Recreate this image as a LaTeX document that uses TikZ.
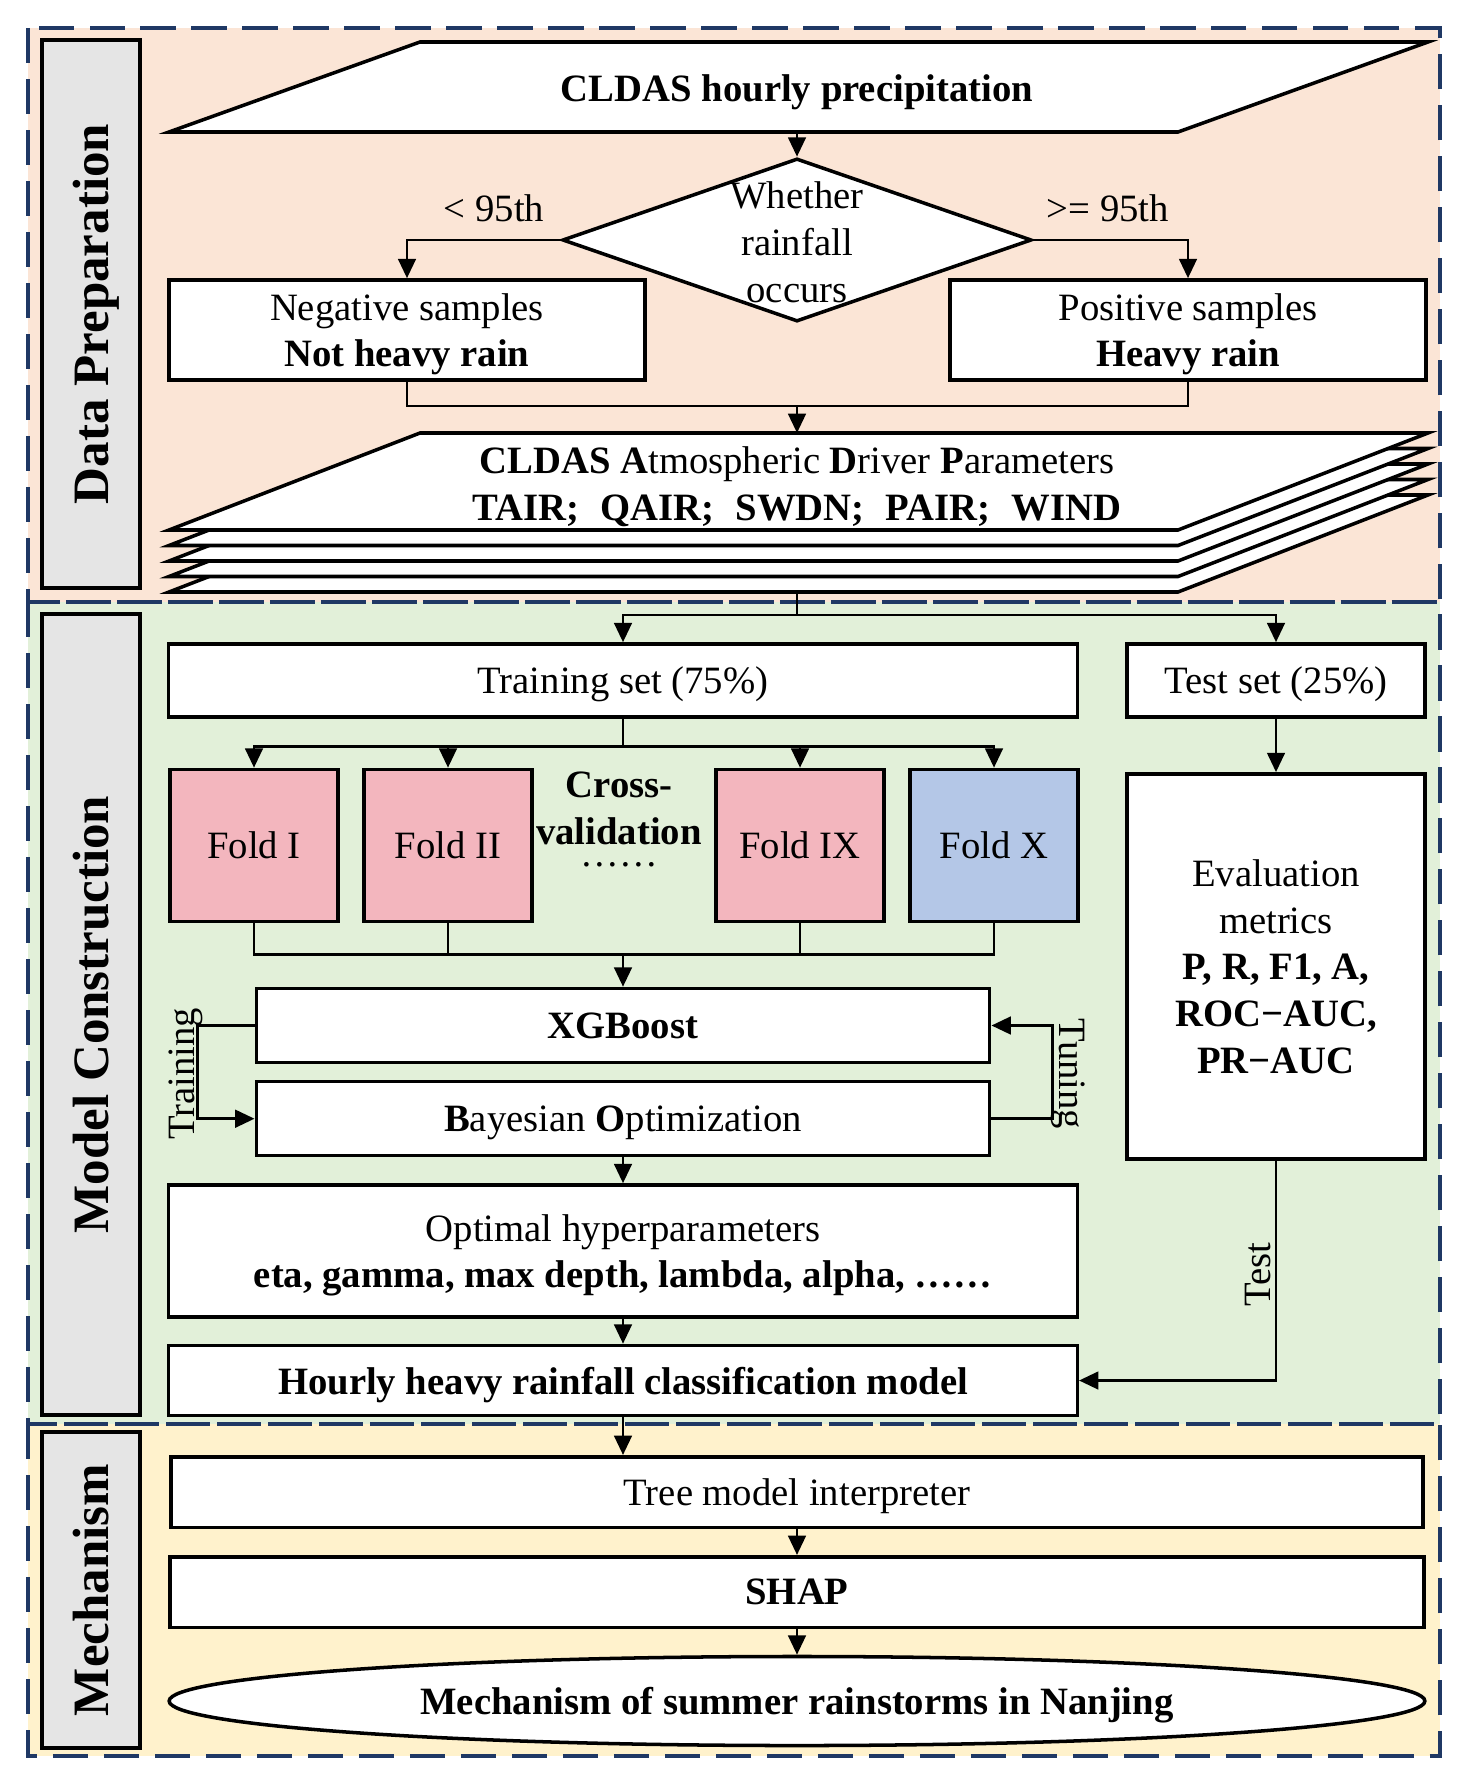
\documentclass[tikz,border=0pt]{standalone}
\usepackage{fontspec}
\setmainfont{Liberation Serif}
\usetikzlibrary{arrows.meta,shapes.geometric}
\definecolor{dpfill}{RGB}{251,229,214}
\definecolor{mcfill}{RGB}{226,240,217}
\definecolor{mefill}{RGB}{255,242,204}
\definecolor{navy}{RGB}{31,56,100}
\definecolor{labgray}{RGB}{229,229,229}
\definecolor{foldpink}{RGB}{243,182,190}
\definecolor{foldblue}{RGB}{180,199,231}
\begin{document}
\fontsize{11}{13.3}\selectfont
\begin{tikzpicture}[x=0.01cm,y=-0.01cm,
		>={Triangle[length=5.5pt,width=5pt]},
		every node/.style={text depth=0pt},
		box/.style={draw,line width=1pt,fill=white,align=center,inner sep=0pt},
		sheet/.style={draw,line width=1pt,fill=white},
		link/.style={line width=0.8pt},
		panel/.style={navy,line width=1.2pt,dash pattern=on 10pt off 4.5pt},
		sidebox/.style={draw,line width=1pt,fill=labgray,rotate=90,inner sep=0pt,minimum height=0.98cm,font=\fontsize{14.5}{16}\selectfont\bfseries}]
		\useasboundingbox (0,0) rectangle (1467,1782);
		\fill[dpfill] (28,28) rectangle (1440,602);
		\fill[mcfill] (28,602) rectangle (1440,1424);
		\fill[mefill] (28,1424) rectangle (1440,1756);
		\draw[panel] (28,28) rectangle (1440,602);
		\draw[panel] (28,602) rectangle (1440,1424);
		\draw[panel] (28,1424) rectangle (1440,1756);
		
		\node[sidebox,minimum width=5.48cm] (dp) at (91,314) {Data Preparation};
		\node[sidebox,minimum width=8.01cm] (mc) at (91,1014.5) {Model Construction};
		\node[sidebox,minimum width=3.16cm] (me) at (91,1590) {Mechanism};
		
		\draw[sheet] (420,42) -- (1428,42) -- (1178,132) -- (169,132) -- cycle;
		\node[font=\bfseries] (prec) at (797,88) {CLDAS hourly precipitation};
		\coordinate (precb) at (797,132);
		
		\node[draw,diamond,line width=1pt,fill=white,minimum width=4.69cm,minimum height=1.63cm,inner sep=0pt] (rain) at (797,240) {};
		\node[align=center] (raintxt) at (797,242) {Whether\\rainfall\\occurs};
		\node (lt) at (494,208) {< 95th};
		\node (ge) at (1108,208) {>= 95th};
		
		\node[box,minimum width=4.76cm,minimum height=1cm] (neg) at (407,330) {Negative samples\\\textbf{Not heavy rain}};
		\node[box,minimum width=4.76cm,minimum height=1cm] (pos) at (1188,330) {Positive samples\\\textbf{Heavy rain}};
		
		\draw[link,->] (precb) -- (rain.north);
		\draw[link,->] (rain.west) -| (neg.north);
		\draw[link,->] (rain.east) -| (pos.north);
		\coordinate (mrg) at (797,406);
		\coordinate (stkt) at (797,433);
		\draw[link] (neg.south) |- (mrg) -| (pos.south);
		\draw[link,->] (mrg) -- (stkt);
		
		\foreach \d in {62,46.5,31,15.5,0}
			\draw[sheet] (420,{433+\d}) -- (1428,{433+\d}) -- (1178,{530+\d}) -- (169,{530+\d}) -- cycle;
		\node[align=center] (drv) at (797,483.5) {\textbf{CLDAS A}tmospheric \textbf{D}river \textbf{P}arameters\\\textbf{TAIR;\hspace{0.55em}QAIR;\hspace{0.55em}SWDN;\hspace{0.55em}PAIR;\hspace{0.55em}WIND}};
		\coordinate (stkb) at (797,592);
		\coordinate (split) at (797,615);
		
		\node[box,minimum width=9.08cm,minimum height=0.73cm] (train) at (623,680.5) {Training set (75\%)};
		\node[box,minimum width=2.98cm,minimum height=0.73cm] (test) at (1276,680.5) {Test set (25\%)};
		\draw[link] (stkb) -- (split);
		\draw[link,->] (split) -| (train.north);
		\draw[link,->] (split) -| (test.north);
		
		\foreach \n/\x/\c/\t in {f1/254/foldpink/Fold I,f2/448/foldpink/Fold II,f9/800/foldpink/Fold IX,f10/994/foldblue/Fold X}
			\node[box,fill=\c,minimum width=1.68cm,minimum height=1.52cm] (\n) at (\x,845.5) {\t};
		\node[align=center,font=\bfseries,inner sep=0pt] (cv) at (619,808) {Cross-\\validation};
		\node[inner sep=0pt] (cvdots) at (619,864) {……};
		\coordinate (fsplit) at (623,746.5);
		\draw[link] (train.south) -- (fsplit);
		\foreach \n in {f1,f2,f9,f10}
			\draw[link,->] (fsplit) -| (\n.north);
		
		\node[box,minimum width=7.33cm,minimum height=0.74cm] (xgb) at (623,1025.5) {\textbf{XGBoost}};
		\node[box,minimum width=7.33cm,minimum height=0.74cm] (bayes) at (623,1118.7) {\textbf{B}ayesian \textbf{O}ptimization};
		\coordinate (fmrg) at (623,954.5);
		\draw[link] (f1.south) |- (fmrg) -| (f10.south);
		\draw[link] (f2.south) -- (f2.south |- fmrg);
		\draw[link] (f9.south) -- (f9.south |- fmrg);
		\draw[link,->] (fmrg) -- (xgb.north);
		\draw[link,->] (xgb.west) -- ++(-57,0) |- (bayes.west);
		\draw[link,->] (bayes.east) -- ++(61,0) |- (xgb.east);
		\node[rotate=90] (trn) at (182,1074) {Training};
		\node[rotate=-90] (tun) at (1072,1074) {Tuning};
		
		\node[box,minimum width=9.08cm,minimum height=1.32cm] (opt) at (623,1251) {Optimal hyperparameters\\\textbf{eta, gamma, max depth, lambda, alpha, ……}};
		\node[box,minimum width=9.08cm,minimum height=0.7cm] (hourly) at (623,1380.5) {\textbf{Hourly heavy rainfall classification model}};
		\draw[link,->] (bayes.south) -- (opt.north);
		\draw[link,->] (opt.south) -- (hourly.north);
		
		\node[box,minimum width=2.98cm,minimum height=3.85cm] (eval) at (1276,966.5) {Evaluation\\metrics\\\textbf{P, R, F1, A,}\\\textbf{ROC−AUC,}\\\textbf{PR−AUC}};
		\draw[link,->] (test.south) -- (eval.north);
		\draw[link,->] (eval.south) |- (hourly.east);
		\node[rotate=90] (tst) at (1258,1275) {Test};
		
		\node[box,minimum width=12.51cm,minimum height=0.705cm] (tree) at (797,1492) {Tree model interpreter};
		\node[box,minimum width=12.53cm,minimum height=0.705cm] (shap) at (797,1592) {\textbf{SHAP}};
		\node[box,ellipse,minimum width=12.55cm,minimum height=0.89cm] (mech) at (797,1701) {\textbf{Mechanism of summer rainstorms in Nanjing}};
		\draw[link,->] (hourly.south) -- (hourly.south |- tree.north);
		\draw[link,->] (tree.south) -- (shap.north);
		\draw[link,->] (shap.south) -- (mech.north);
\end{tikzpicture}
\end{document}
